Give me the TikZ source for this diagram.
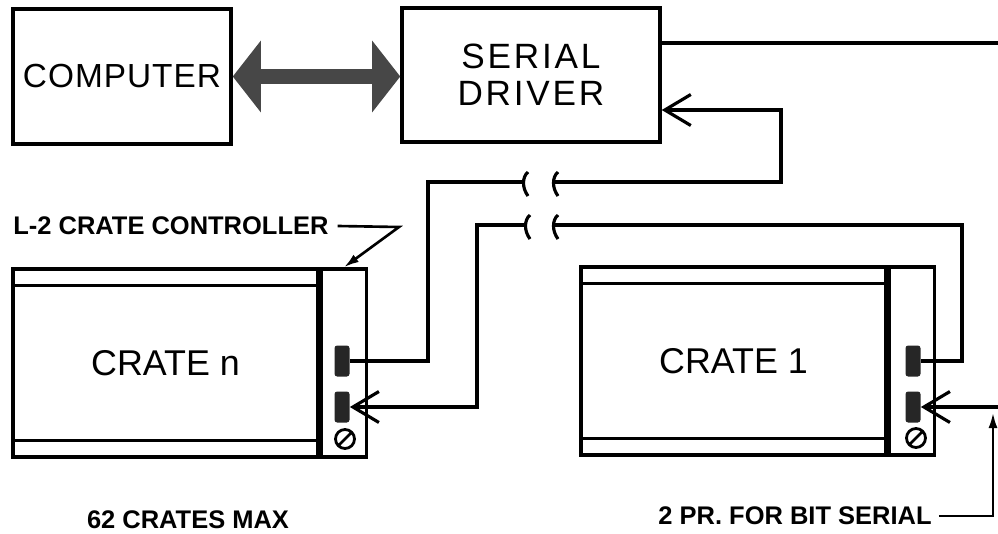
\documentclass[tikz,border=0pt]{standalone}
\usepackage{fontspec}
\setmainfont{Liberation Sans}
\newfontfamily\wideface[LetterSpace=8]{Liberation Sans}
\newfontfamily\compface[LetterSpace=3]{Liberation Sans}
\usetikzlibrary{arrows.meta}

\tikzset{
  unit/.style={draw, line width=2pt, inner sep=0pt},
  crate/.style={unit, minimum width=6.1cm, minimum height=3.76cm, font=\fontsize{20.4}{24}\selectfont},
  ctl/.style={unit, minimum width=0.9cm, minimum height=3.76cm},
  tab/.style={fill=black!85, rounded corners=1.5pt, minimum width=0.3cm, minimum height=0.62cm, inner sep=0pt},
  wire/.style={line width=1.8pt},
  barb/.style={-{Straight Barb[length=0.52cm,width=0.62cm]}},
  note/.style={font=\bfseries\fontsize{14.5}{17}\selectfont, inner sep=0pt},
  pointer/.style={line width=1.5pt, -{Latex[length=0.3cm,width=0.18cm]}},
  brk/.pic={\draw[wire] (3,-10) .. controls (-3,-5) and (-3,6) .. (3,14);}
}

\begin{document}
\begin{tikzpicture}[x=0.02cm, y=-0.02cm]
  \useasboundingbox (0,0) rectangle (998,534);
  % computer and driver
  \node[unit, minimum width=4.36cm, minimum height=2.7cm, font={\compface\fontsize{19}{22}\selectfont}] (comp) at (122,76.5) {COMPUTER};
  \node[unit, minimum width=5.16cm, minimum height=2.68cm, align=center, font={\wideface\fontsize{20}{21}\selectfont}] (drv) at (531,75) {SERIAL\\DRIVER};
  \draw[line width=8.5pt, draw=black!72, {Triangle[length=16pt,width=40pt]}-{Triangle[length=16pt,width=40pt]}] (comp.east) -- (comp.east -| drv.west);

  % crate n
  \node[crate] (cn) at (165.5,363) {CRATE n};
  \node[ctl, anchor=west] (cnc) at (cn.east) {};
  \draw[line width=1.6pt] ([yshift=-0.37cm]cn.north west) -- ([yshift=-0.37cm]cn.north east);
  \draw[line width=1.6pt] ([yshift=0.37cm]cn.south west) -- ([yshift=0.37cm]cn.south east);
  \node[tab] (cnA) at (342,361) {};
  \node[tab] (cnB) at (342,407) {};
  \draw[line width=1.6pt] (345,439) circle (0.19cm) (339,445) -- (351,433);

  % crate 1
  \node[crate] (c1) at (733.5,361) {CRATE 1};
  \node[ctl, anchor=west] (c1c) at (c1.east) {};
  \draw[line width=1.6pt] ([yshift=-0.37cm]c1.north west) -- ([yshift=-0.37cm]c1.north east);
  \draw[line width=1.6pt] ([yshift=0.37cm]c1.south west) -- ([yshift=0.37cm]c1.south east);
  \node[tab] (c1A) at (913,361) {};
  \node[tab] (c1B) at (913,407) {};
  \draw[line width=1.6pt] (916,438) circle (0.19cm) (910,444) -- (922,432);

  % notes
  \node[note, anchor=west] (ctlnote) at (13,226) {L-2 CRATE CONTROLLER};
  \node[note] (maxnote) at (188,520) {62 CRATES MAX};
  \node[note] (bitnote) at (795,516) {2 PR. FOR BIT SERIAL};
  \coordinate (kinkA) at (399,227);
  \draw[pointer] ([xshift=5pt]ctlnote.east) -- (kinkA) -- (cnc.north);
  \coordinate (upD) at (993,413);
  \draw[pointer, line width=1.2pt] ([xshift=4pt]bitnote.east) -| (upD);

  % serial loop
  \coordinate (topout) at (998,43);
  \draw[wire] (drv.east |- topout) -- (topout);
  \coordinate (fbA) at (781,110);
  \coordinate (brkR1) at (555,182);
  \coordinate (brkL1) at (525,182);
  \coordinate (upA) at (428,182);
  \draw[wire, barb] (brkR1) -| (fbA) -- (drv.east |- fbA);
  \draw[wire] (cnA.east) -| (upA) -- (brkL1);
  \coordinate (brkL2) at (527,225);
  \coordinate (dnB) at (477,225);
  \draw[wire, barb] (brkL2) -- (dnB) |- (cnB.east);
  \coordinate (brkR2) at (555,225);
  \coordinate (upC) at (962,225);
  \draw[wire] (c1A.east) -| (upC) -- (brkR2);
  \coordinate (inB) at (998,407);
  \draw[wire, barb] (inB) -- (c1B.east);
  \foreach \b in {brkL1,brkR1,brkL2,brkR2} \pic at (\b) {brk};
\end{tikzpicture}
\end{document}
